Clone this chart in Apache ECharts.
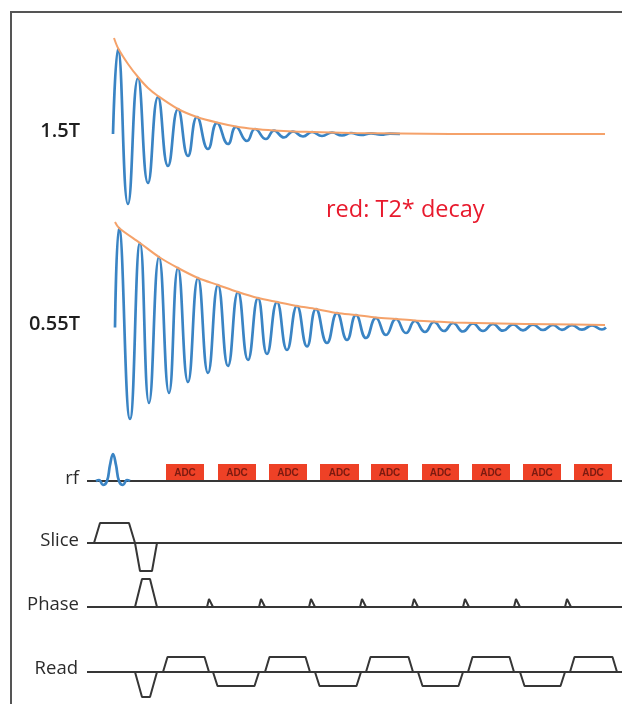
<!DOCTYPE html>
<html><head><meta charset="utf-8">
<script src="https://cdn.jsdelivr.net/npm/echarts@6/dist/echarts.min.js"></script>
<style>html,body{margin:0;padding:0;background:#fff}#c{width:622px;height:707px}</style>
</head><body><div id="c"></div>
<script>
// ---- time axis: ms ----
const timeMax = 5.35;

// 1.5T free induction decay (extrema)
const sig15Time  = [0.26,0.31,0.41,0.51,0.61,0.71,0.81,0.91,1.01,1.10,1.21,1.30,1.41,1.49,1.60,1.68,1.79,1.87,1.97,2.06,2.16,2.25,2.35,2.45,2.55,2.64,2.74,2.84,2.94,3.03,3.13];
const sig15Value = [0,0.85,-0.70,0.56,-0.49,0.37,-0.32,0.25,-0.22,0.17,-0.15,0.11,-0.10,0.07,-0.07,0.05,-0.05,0.035,-0.035,0.025,-0.025,0.02,-0.02,0.015,-0.015,0.01,-0.01,0.007,-0.007,0.004,0];
const env15Time  = [0.27,0.31,0.41,0.51,0.61,0.71,0.91,1.10,1.30,1.49,1.68,1.87,2.06,2.25,2.63,3.13,3.63,5.18];
const env15Value = [0.96,0.86,0.70,0.57,0.46,0.38,0.25,0.17,0.115,0.075,0.05,0.035,0.025,0.02,0.01,0.004,0,0];

// 0.55T free induction decay
const sig055Time  = [0.28,0.32,0.43,0.53,0.62,0.72,0.82,0.91,1.01,1.11,1.21,1.31,1.41,1.51,1.61,1.71,1.80,1.90,2.00,2.10,2.20,2.29,2.40,2.50,2.60,2.69,2.79,2.89,2.99,3.09,3.19,3.28,3.38,3.47,3.57,3.66,3.76,3.86,3.96,4.06,4.16,4.26,4.36,4.46,4.56,4.66,4.75,4.85,4.95,5.05,5.15,5.19];
const sig055Value = [0,0.995,-0.915,0.845,-0.755,0.705,-0.655,0.595,-0.545,0.495,-0.455,0.425,-0.385,0.355,-0.325,0.295,-0.265,0.255,-0.225,0.215,-0.19,0.185,-0.155,0.145,-0.125,0.125,-0.105,0.095,-0.075,0.085,-0.055,0.065,-0.045,0.055,-0.035,0.045,-0.04,0.04,-0.035,0.035,-0.032,0.03,-0.028,0.028,-0.025,0.025,-0.023,0.023,-0.022,0.02,-0.02,0];
const env055Time  = [0.28,0.32,0.53,0.72,0.91,1.11,1.31,1.51,1.71,1.90,2.10,2.29,2.50,2.69,2.89,3.09,3.28,3.47,3.66,4.13,4.63,5.18];
const env055Value = [1.055,0.995,0.845,0.705,0.595,0.495,0.425,0.355,0.295,0.255,0.215,0.185,0.145,0.125,0.10,0.085,0.07,0.06,0.05,0.04,0.032,0.025];

// rf pulse (sinc)
const rfTime  = [0.09,0.12,0.16,0.20,0.23,0.26,0.29,0.32,0.36,0.40,0.43];
const rfValue = [0,0.05,-0.2,0,0.8,1.35,0.8,0,-0.2,0.05,0];

// ADC windows
const adcStart = [0.79,1.31,1.82,2.33,2.84,3.35,3.85,4.36,4.87];
const adcEnd   = [1.17,1.69,2.20,2.72,3.21,3.72,4.23,4.74,5.25];
const adcHeight = 0.85;

// gradients: lobe start, end, amplitude, ramp
const sliceStart = [0.07,0.48];
const sliceEnd   = [0.48,0.70];
const sliceAmp   = [1.0,-1.4];
const sliceRamp  = [0.06,0.05];

const phaseStart = [0.48];
const phaseEnd   = [0.70];
const phaseAmp   = [1.4];
const phaseRamp  = [0.07];
const blipCenter = [1.23,1.75,2.25,2.76,3.28,3.79,4.30,4.81];
const blipAmp = 0.4;
const blipWidth = 0.06;

const readStart = [0.48,0.76,1.26,1.78,2.28,2.79,3.31,3.81,4.33,4.83];
const readEnd   = [0.70,1.22,1.72,2.23,2.74,3.26,3.76,4.27,4.78,5.30];
const readAmp   = [-1.25,0.75,-0.7,0.75,-0.7,0.75,-0.7,0.75,-0.7,0.75];
const readRamp  = [0.07,0.045,0.045,0.045,0.045,0.045,0.045,0.045,0.045,0.045];

// ---- helpers ----
function pairs(t, v){ return t.map((x,i)=>[x, v[i]]); }
function trapezoids(s, e, a, r){
  const pts = [];
  s.forEach((st,i)=>{
    const rr = Array.isArray(r) ? r[i] : r;
    pts.push([st,0],[st+rr,a[i]],[e[i]-rr,a[i]],[e[i],0]);
  });
  return pts;
}
const phaseAllStart = phaseStart.concat(blipCenter.map(c=>c-blipWidth/2));
const phaseAllEnd   = phaseEnd.concat(blipCenter.map(c=>c+blipWidth/2));
const phaseAllAmp   = phaseAmp.concat(blipCenter.map(()=>blipAmp));
const phaseAllRamp  = phaseRamp.concat(blipCenter.map(()=>0.02));

const BLUE = '#3a84c4', ORANGE = '#f5a26a', GRAY = '#363636';
const LEFT = 87;
const grids = [
  {left:LEFT, right:0, top:14,    height:240},
  {left:LEFT, right:0, top:207.5, height:240},
  {left:LEFT, right:0, top:451,   height:60},
  {left:LEFT, right:0, top:513,   height:60},
  {left:LEFT, right:0, top:577,   height:60},
  {left:LEFT, right:0, top:642,   height:60}
];
const xAxes = grids.map((g,i)=>({type:'value', gridIndex:i, min:0, max:timeMax, show:false}));
const yAxes = grids.map((g,i)=>i<2 ? {type:'value', gridIndex:i, min:-1.2, max:1.2, show:false}
                                   : {type:'value', gridIndex:i, min:-1.5, max:1.5, show:false});

function line(idx, data, color, width, smooth){
  return {type:'line', xAxisIndex:idx, yAxisIndex:idx, data:data, showSymbol:false, symbol:'none',
          smooth:smooth||false, clip:false, silent:true,
          lineStyle:{color:color, width:width}, itemStyle:{color:color}};
}
function baseline(idx){ return line(idx, [[0,0],[timeMax,0]], GRAY, 2); }

const series = [
  line(0, pairs(sig15Time, sig15Value), BLUE, 2.7, 0.5),
  line(0, pairs(env15Time, env15Value), ORANGE, 2, 0.3),
  line(1, pairs(sig055Time, sig055Value), BLUE, 2.7, 0.5),
  line(1, pairs(env055Time, env055Value), ORANGE, 2, 0.3),
  baseline(2),
  line(2, pairs(rfTime, rfValue), BLUE, 2.7, 0.45),
  {type:'custom', xAxisIndex:2, yAxisIndex:2, silent:true,
   data: adcStart.map((s,i)=>[s, adcEnd[i], adcHeight]),
   renderItem: function(params, api){
     const p0 = api.coord([api.value(0), api.value(2)]);
     const p1 = api.coord([api.value(1), 0]);
     return {type:'group', children:[
       {type:'rect', shape:{x:p0[0], y:p0[1], width:p1[0]-p0[0], height:p1[1]-p0[1]}, style:{fill:'#ee4126'}},
       {type:'text', style:{text:'ADC', x:(p0[0]+p1[0])/2, y:(p0[1]+p1[1])/2 + 0.5, align:'center', verticalAlign:'middle',
         font:'bold 10px "Liberation Sans", Arial, sans-serif', fill:'#7a1a10'}}
     ]};
   }},
  baseline(3),
  line(3, trapezoids(sliceStart, sliceEnd, sliceAmp, sliceRamp), GRAY, 2),
  baseline(4),
  line(4, trapezoids(phaseAllStart, phaseAllEnd, phaseAllAmp, phaseAllRamp), GRAY, 2),
  baseline(5),
  line(5, trapezoids(readStart, readEnd, readAmp, readRamp), GRAY, 2)
];

const LABEL_FONT = '"Open Sans", "Noto Sans", sans-serif';
function lbl(text, x, y, opts){
  return {type:'text', x:x, y:y, silent:true, style:Object.assign({text:text, align:'right', verticalAlign:'middle',
    font:'18px ' + LABEL_FONT, fill:'#2b2b2b'}, opts||{})};
}
const chart = echarts.init(document.getElementById('c'), null, {renderer:'canvas'});
chart.setOption({
  animation:false,
  backgroundColor:'#fff',
  grid:grids, xAxis:xAxes, yAxis:yAxes, series:series,
  graphic:[
    {type:'polyline', silent:true, shape:{points:[[11,704],[11,12],[622,12]]}, style:{stroke:'#555', lineWidth:2, fill:null}},
    lbl('1.5T', 80, 131, {font:'600 20px ' + LABEL_FONT, fill:'#1e1e1e'}),
    lbl('0.55T', 80, 324, {font:'600 20px ' + LABEL_FONT, fill:'#1e1e1e'}),
    lbl('red: T2* decay', 326, 210, {align:'left', font:'23.5px ' + LABEL_FONT, fill:'#e8192c'}),
    lbl('rf', 79, 479, {font:'18.5px ' + LABEL_FONT}),
    lbl('Slice', 79, 541, {font:'18.5px ' + LABEL_FONT}),
    lbl('Phase', 79, 605, {font:'18.5px ' + LABEL_FONT}),
    lbl('Read', 78, 669, {font:'18.5px ' + LABEL_FONT})
  ]
});
</script></body></html>
